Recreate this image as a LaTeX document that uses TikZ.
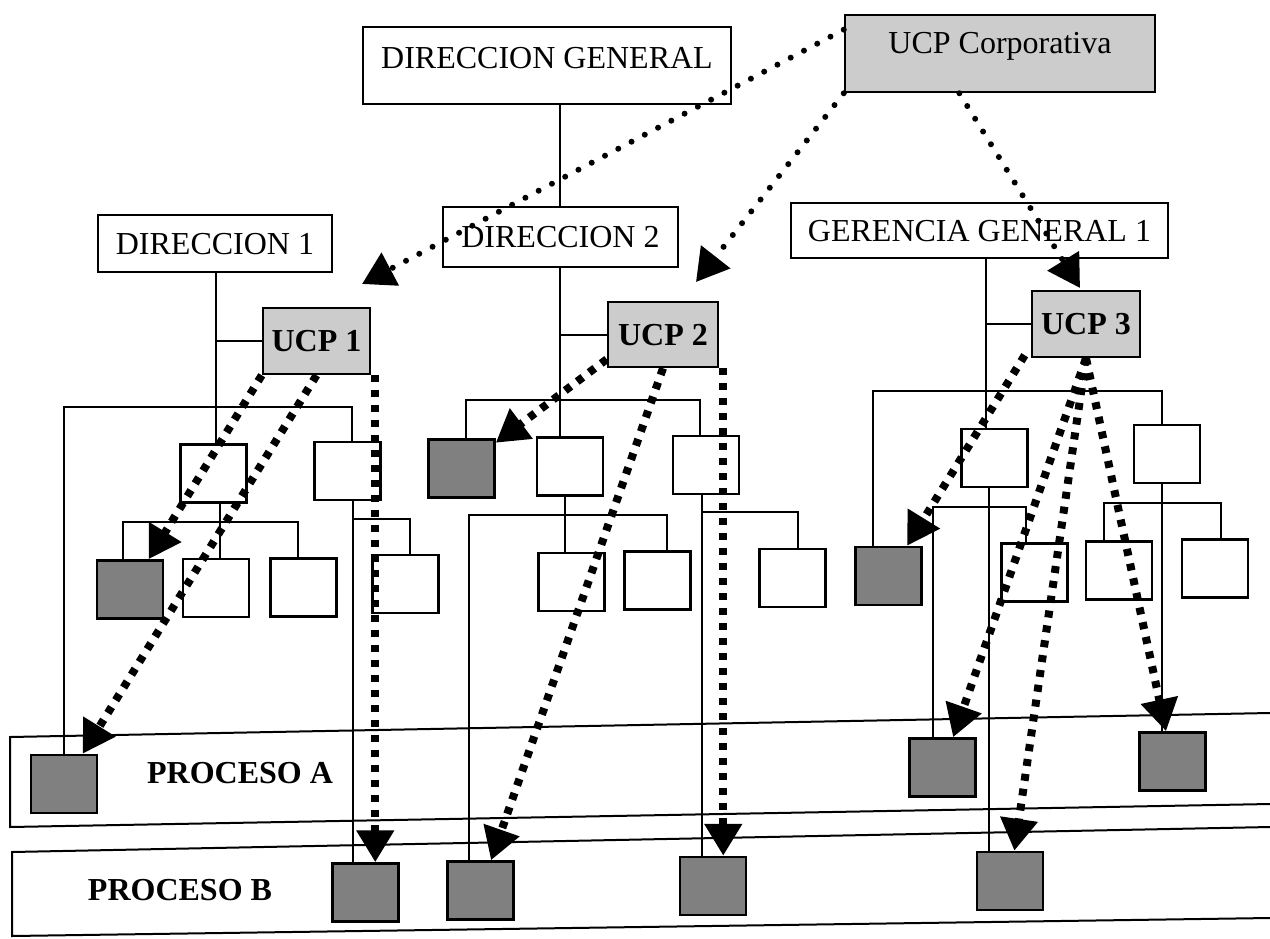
\documentclass[tikz,border=0pt]{standalone}
\usepackage{fontspec}
\setmainfont{Liberation Serif}
\usetikzlibrary{arrows.meta,calc}

\begin{document}
\begin{tikzpicture}[x=1pt,y=-1pt,
  every node/.style={font=\fontsize{32}{38}\selectfont},
  orgbox/.style={draw, line width=2.5pt, fill=white, inner sep=2pt,
                 text height=21pt, text depth=0pt},
  ucpbox/.style={orgbox, fill=black!20, font=\fontsize{32}{38}\selectfont\bfseries},
  cell/.style={draw, line width=2.5pt, fill=white, minimum width=66pt,
               minimum height=58pt, inner sep=0pt},
  shaded/.style={cell, fill=black!50},
  conn/.style={line width=2pt},
  band/.style={line width=2pt, line join=miter},
  corp/.style={line width=6pt, line cap=round, dash pattern=on 0pt off 15pt,
               -{Triangle[length=32pt,width=36pt]}},
  ucp/.style={line width=8pt, line cap=butt, dash pattern=on 7pt off 8pt,
              -{Triangle[length=32pt,width=36pt]}},
  proc/.style={font=\fontsize{32}{38}\selectfont\bfseries},
]
\useasboundingbox (0,0) rectangle (1270,938);

% process bands
\draw[band] (1270,713) -- (10,737) -- (10,827) -- (1270,804);
\draw[band] (1270,827) -- (12,852) -- (12,936) -- (1270,918);
\node[proc] (procA) at (240,773) {PROCESO A};
\node[proc] (procB) at (180,890) {PROCESO B};

% top level
\node[orgbox, minimum width=368pt, minimum height=77pt, text height=22pt, text depth=16pt]
  (dg) at (547,65.5) {DIRECCION GENERAL};
\node[orgbox, fill=black!20, minimum width=310pt, minimum height=77pt, text height=22pt, text depth=22pt]
  (ucpc) at (1000,53.5) {UCP Corporativa};

% second level
\node[orgbox, minimum width=234pt, minimum height=57pt] (d1) at (215,243.5) {DIRECCION 1};
\node[orgbox, minimum width=235pt, minimum height=60pt] (d2) at (560.5,237) {DIRECCION 2};
\node[orgbox, minimum width=377pt, minimum height=55pt] (gg1) at (979.5,230.5) {GERENCIA GENERAL 1};

\node[ucpbox, minimum width=107pt, minimum height=66pt] (ucp1) at (316.5,341) {UCP 1};
\node[ucpbox, minimum width=110pt, minimum height=65pt] (ucp2) at (663,334.5) {UCP 2};
\node[ucpbox, minimum width=108pt, minimum height=66pt] (ucp3) at (1086,324) {UCP 3};

% units under DIRECCION 1
\node[cell] (a1) at (213.5,473.5) {};
\node[cell] (a2) at (347.5,471) {};
\node[shaded] (g1) at (130,589.5) {};
\node[cell] (b1) at (216,588) {};
\node[cell] (b2) at (303.5,587.5) {};
\node[cell] (b3) at (405.5,584) {};

% units under DIRECCION 2
\node[shaded] (gd) at (461.5,468.5) {};
\node[cell] (c2) at (570,466.5) {};
\node[cell] (c3) at (706,465) {};
\node[cell] (dd1) at (571.5,582) {};
\node[cell] (dd2) at (657.5,580.5) {};
\node[cell] (dd3) at (792.5,578) {};

% units under GERENCIA GENERAL 1
\node[shaded] (gg) at (888.5,576) {};
\node[cell] (e1) at (994.5,458) {};
\node[cell] (e2) at (1167,454) {};
\node[cell] (f1) at (1034.5,572.5) {};
\node[cell] (f2) at (1119,570.5) {};
\node[cell] (f3) at (1215,568.5) {};

% process units
\node[shaded] (pa1) at (64,784) {};
\node[shaded] (pa2) at (942.5,767.5) {};
\node[shaded] (pa3) at (1172.5,761.5) {};
\node[shaded] (pb1) at (365.5,892.5) {};
\node[shaded] (pb2) at (480.5,890.5) {};
\node[shaded] (pb3) at (713,886) {};
\node[shaded] (pb4) at (1010,881) {};

% junctions of the hierarchy lines
\coordinate (jd1) at (216,407);  \coordinate (jd1r) at (352,407);
\coordinate (ja1) at (220,522);  \coordinate (ja1l) at (123,522); \coordinate (ja1r) at (298,522);
\coordinate (ja2) at (353,519);  \coordinate (ja2r) at (410,519);
\coordinate (jd2) at (560,401);  \coordinate (jd2l) at (466,401); \coordinate (jd2r) at (700,400);
\coordinate (jc2) at (565,515);  \coordinate (jc2l) at (469,515); \coordinate (jc2r) at (667,515);
\coordinate (jc3) at (702,512);  \coordinate (jc3r) at (798,512);
\coordinate (jg) at (986,391);   \coordinate (jgl) at (873,391);  \coordinate (jgr) at (1162,391);
\coordinate (je1) at (989,507);  \coordinate (je1l) at (933,507); \coordinate (je1r) at (1026,507);
\coordinate (je2l) at (1104,503); \coordinate (je2r) at (1221,503);

% DIRECCION 1 tree
\draw[conn] (d1.south -| jd1) -- (a1.north -| jd1);
\draw[conn] (ucp1.west -| jd1) -- (ucp1.west);
\draw[conn] (pa1.north) |- (jd1r) -- (a2.north -| jd1r);
\draw[conn] (a1.south -| ja1) -- (b1.north -| ja1);
\draw[conn] (g1.north -| ja1l) |- (ja1r) -- (b2.north -| ja1r);
\draw[conn] (a2.south -| ja2) -- (pb1.north -| ja2);
\draw[conn] (ja2) -- (ja2r) -- (b3.north -| ja2r);

% DIRECCION 2 tree
\draw[conn] (dg.south -| jd2) -- (d2.north -| jd2);
\draw[conn] (d2.south -| jd2) -- (c2.north -| jd2);
\draw[conn] (ucp2.west -| jd2) -- (ucp2.west);
\draw[conn] (gd.north -| jd2l) |- (jd2r) -- (c3.north -| jd2r);
\draw[conn] (c2.south -| jc2) -- (dd1.north -| jc2);
\draw[conn] (pb2.north -| jc2l) |- (jc2r) -- (dd2.north -| jc2r);
\draw[conn] (c3.south -| jc3) -- (pb3.north -| jc3);
\draw[conn] (jc3) -- (jc3r) -- (dd3.north -| jc3r);

% GERENCIA GENERAL 1 tree
\draw[conn] (gg1.south -| jg) -- (e1.north -| jg);
\draw[conn] (ucp3.west -| jg) -- (ucp3.west);
\draw[conn] (gg.north -| jgl) |- (jgr) -- (e2.north -| jgr);
\draw[conn] (e1.south -| je1) -- (pb4.north -| je1);
\draw[conn] (pa2.north -| je1l) |- (je1r) -- (f1.north -| je1r);
\draw[conn] (e2.south -| jgr) -- (pa3.north -| jgr);
\draw[conn] (f2.north -| je2l) |- (je2r) -- (f3.north -| je2r);

% corporate coordination links
\coordinate (t1) at (362,284);
\coordinate (t2) at (696,282);
\coordinate (t3) at (1080,288);
\draw[corp] ($(ucpc.north west)!0.2!(ucpc.south west)$) -- (t1);
\draw[corp] (ucpc.south west) -- (t2);
\draw[corp] ($(ucpc.south west)!0.37!(ucpc.south east)$) -- (t3);

% unit coordination links
\draw[ucp] (ucp1.south west) -- (g1);
\draw[ucp] (ucp1.south) -- (pa1);
\coordinate (u1c) at ($(ucp1.south east)+(4,0)$);
\draw[ucp] (u1c) -- (u1c |- pb1.north);

\draw[ucp] ($(ucp2.south west)+(0,-9)$) -- (gd);
\draw[ucp] (ucp2.south) -- (pb2);
\coordinate (u2c) at ($(ucp2.south east)+(4,0)$);
\draw[ucp] (u2c) -- (u2c |- pb3.north);

\draw[ucp] ($(ucp3.south west)+(-6,-3)$) -- (gg);
\draw[ucp] (ucp3.south) -- (pa2);
\draw[ucp] (ucp3.south) -- (pb4);
\draw[ucp] (ucp3.south) -- (pa3);
\end{tikzpicture}
\end{document}
